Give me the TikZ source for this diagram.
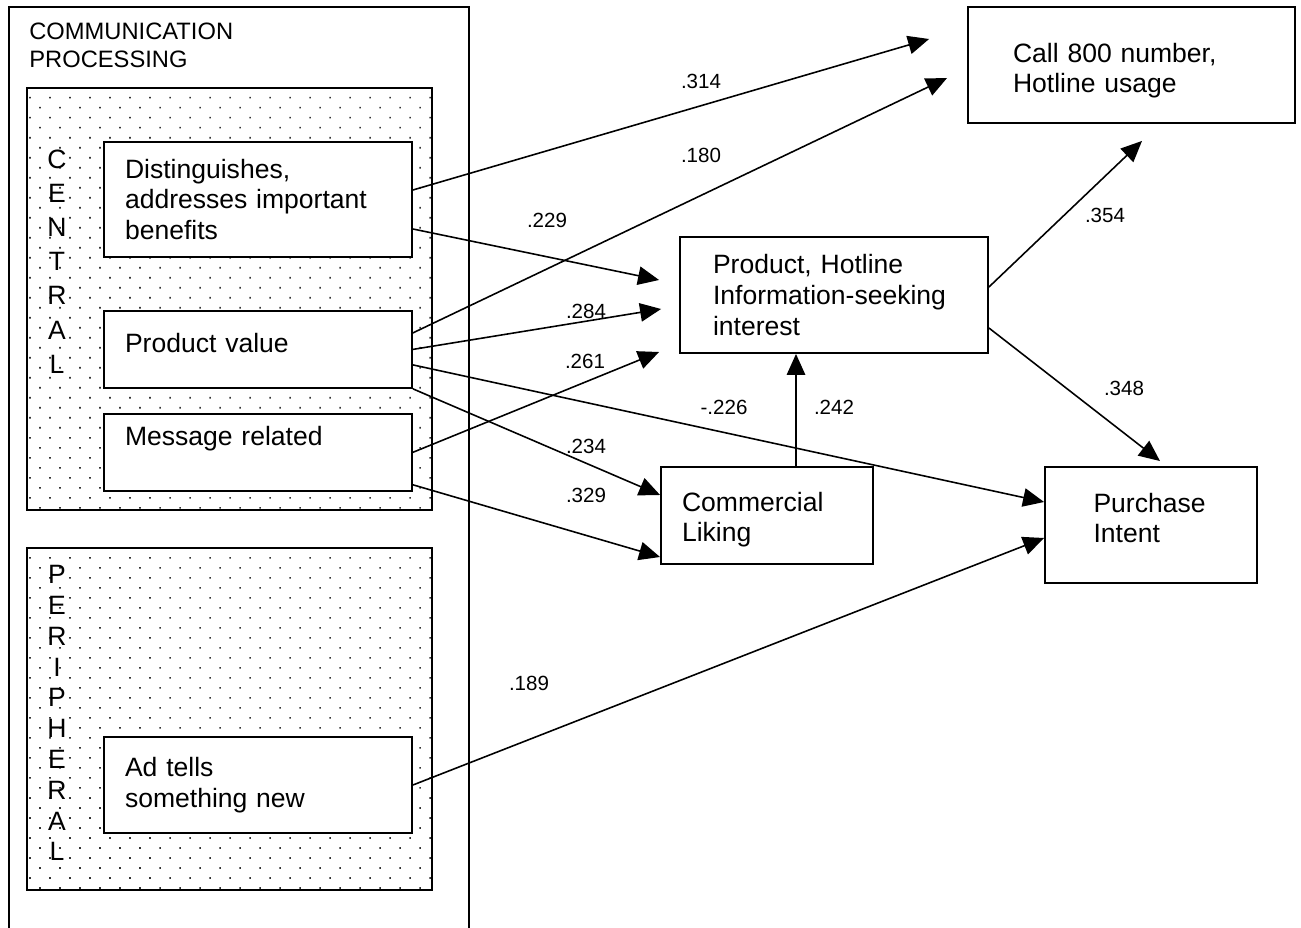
\documentclass[tikz,border=0pt]{standalone}
\usepackage{fontspec}
\setmainfont{Liberation Sans}
\usetikzlibrary{arrows.meta,positioning,calc,patterns.meta}
\tikzset{
  % variable boxes
  varbox/.style={draw,line width=1.1pt,fill=white,align=left,inner sep=0pt,
    font=\fontsize{15.1pt}{17.4pt}\selectfont},
  % dotted route panels
  panel/.style={draw,line width=1.1pt,
    pattern={Dots[distance=0.283cm,angle=45,radius=0.65pt]},pattern color=black!80},
  frame/.style={line width=1pt},
  vlet/.style={inner sep=0pt,font=\fontsize{15.1pt}{17.4pt}\selectfont},
  % path coefficients
  coef/.style={inner sep=0pt,font=\fontsize{11.7pt}{13.5pt}\selectfont},
  link/.style={line width=0.9pt,-{Triangle[length=0.42cm,width=0.37cm]}},
}

\begin{document}
\begin{tikzpicture}[x=0.02cm,y=-0.02cm]
\useasboundingbox (0,0) rectangle (1301,928);

%% ---- communication processing frame ----
\draw[frame] (9,940) |- (469,7) -- (469,940);
\node[anchor=north west,inner sep=0pt,align=left,
      font=\fontsize{13.5pt}{15.5pt}\selectfont] (title) at (29,23)
  {COMMUNICATION\\PROCESSING};

%% ---- central / peripheral panels ----
\draw[panel] (27,88) rectangle (432,510);
\draw[panel] (27,548) rectangle (432,890);
\foreach \ch [count=\i from 0] in {C,E,N,T,R,A,L}
  \node[vlet] (cen\i) at (57,159+34.2*\i) {\ch};
\foreach \ch [count=\i from 0] in {P,E,R,I,P,H,E,R,A,L}
  \node[vlet] (per\i) at (57,574.5+30.8*\i) {\ch};

%% ---- input boxes ----
\node[varbox,minimum width=6.16cm,minimum height=2.3cm,text width=5.32cm] (dist)
  at (258,199.5) {Distinguishes,\\addresses important\\benefits};
\node[varbox,minimum width=6.16cm,minimum height=1.54cm,text width=5.32cm,
      text depth=0.26cm,below=1.04cm of dist] (pval) {Product value};
\node[varbox,minimum width=6.16cm,minimum height=1.54cm,text width=5.32cm,
      text depth=0.67cm,below=0.48cm of pval] (msg) {Message related};
\node[varbox,minimum width=6.16cm,minimum height=1.92cm,text width=5.32cm] (ad)
  at (258,785) {Ad tells\\something new};

%% ---- outcome boxes ----
\node[varbox,minimum width=6.54cm,minimum height=2.32cm,text width=4.74cm,
      text depth=0.5cm] (call) at (1131.5,65) {Call 800 number,\\Hotline usage};
\node[varbox,minimum width=6.16cm,minimum height=2.32cm,text width=4.84cm] (phl)
  at (834,295) {Product, Hotline\\Information-seeking\\interest};
\node[varbox,minimum width=4.24cm,minimum height=1.94cm,text width=3.4cm,
      text depth=0.56cm] (like) at (767,515.5) {Commercial\\Liking};
\node[varbox,minimum width=4.24cm,minimum height=2.32cm,text width=2.3cm,
      text depth=0.89cm] (pint) at (1151,525) {Purchase\\Intent};

%% ---- arrow ends ----
\coordinate (callA) at ($(call.west)+(-38,-26)$);
\coordinate (callB) at ($(call.west)+(-20,13)$);
\coordinate (callC) at ($(call.south)+(10.5,17)$);
\coordinate (phlA) at ($(phl.west)+(-20,-15)$);
\coordinate (phlB) at ($(phl.west)+(-18,14)$);
\coordinate (phlC) at ($(phl.west)+(-20,57)$);
\coordinate (lk) at ($(like.north)+(29,0)$);

%% ---- paths ----
\draw[link] ($(dist.east)+(0,-9.5)$) -- (callA);
\draw[link] ($(dist.east)+(0,29.5)$) -- (phlA);
\draw[link] ($(pval.east)+(0,-16.5)$) -- (callB);
\draw[link] (pval.east) -- (phlB);
\draw[link] ($(pval.east)+(0,15.5)$) -- ($(pint.west)+(0,-23)$);
\draw[link] (pval.south east) -- ($(like.west)+(0,-20.5)$);
\draw[link] (msg.east) -- (phlC);
\draw[link] ($(msg.east)+(0,32.5)$) -- ($(like.west)+(0,41.5)$);
\draw[link] (ad.east) -- ($(pint.west)+(0,13)$);
\draw[link] (lk) -- (lk |- phl.south);
\draw[link] ($(phl.east)+(0,-8)$) -- (callC);
\draw[link] ($(phl.east)+(0,33)$) -- ($(pint.north)+(9,-5)$);

%% ---- coefficients ----
\node[coef] (c314) at (701,81) {.314};
\node[coef] (c180) at (701,155) {.180};
\node[coef] (c229) at (547,220) {.229};
\node[coef] (c284) at (586,311) {.284};
\node[coef] (c261) at (585,361) {.261};
\node[coef] (c226) at (724,407) {-.226};
\node[coef] (c242) at (834,407) {.242};
\node[coef] (c234) at (586,446) {.234};
\node[coef] (c329) at (586,495) {.329};
\node[coef] (c189) at (529,683) {.189};
\node[coef] (c354) at (1105,215) {.354};
\node[coef] (c348) at (1124,388) {.348};
\end{tikzpicture}
\end{document}
